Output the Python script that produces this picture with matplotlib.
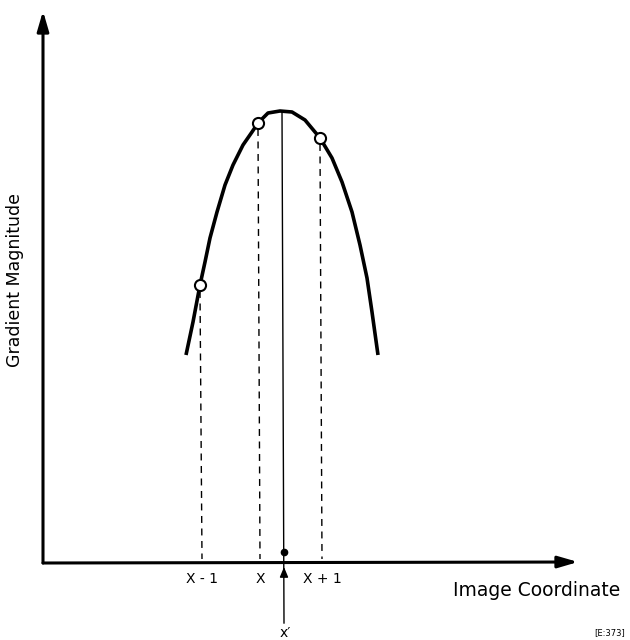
import matplotlib
matplotlib.use("Agg")
import matplotlib.pyplot as plt

# Curve (image-coordinate offset, gradient magnitude)
curve_x = [143, 150, 157, 162, 167, 174, 182, 190, 200, 209, 215, 225, 237,
           249, 262, 277, 289, 299, 309, 317, 324, 329, 335]
curve_y = [208, 241, 278, 301, 325, 351, 378, 398, 418, 431, 440, 450, 452,
           451, 443, 425, 405, 381, 351, 318, 285, 251, 208]

# Sample points x-1, x, x+1
sample_x = [157, 215, 277]
sample_y = [278, 440, 425]
sample_labels = ["X - 1", "X", "X + 1"]

# Interpolated peak location x'
peak_x = 239
peak_y = 452

fig = plt.figure(figsize=(6.3, 6.4), dpi=100)
ax = fig.add_axes([0, 0, 1, 1])
ax.set_xlim(-43, 587)
ax.set_ylim(-77, 563)
ax.axis("off")

# axes with arrows
ax.annotate("", xy=(0, 552), xytext=(0, 0),
            arrowprops=dict(arrowstyle="-|>,head_length=1.2,head_width=0.35",
                            color="black", lw=2.2, shrinkA=0, shrinkB=0))
ax.annotate("", xy=(535, 1), xytext=(0, 0),
            arrowprops=dict(arrowstyle="-|>,head_length=1.2,head_width=0.35",
                            color="black", lw=2.2, shrinkA=0, shrinkB=0))

# dashed drop lines from samples
for sx, sy in zip(sample_x, sample_y):
    ax.plot([sx, sx + 2], [sy - 6, 4], ls=(0, (5, 4)), color="black", lw=1.0)

# solid line through the interpolated peak
ax.plot([peak_x, peak_x + 2], [peak_y, -60], color="black", lw=1.0)
ax.plot(peak_x + 2, 11, "o", color="black", ms=4.5)
ax.annotate("", xy=(peak_x + 2, -4), xytext=(peak_x + 2, -14),
            arrowprops=dict(arrowstyle="-|>,head_length=0.6,head_width=0.25",
                            color="black", lw=1.0, shrinkA=0, shrinkB=0))

# curve
ax.plot(curve_x, curve_y, color="black", lw=2.6, solid_capstyle="butt",
        solid_joinstyle="round", zorder=3)
ax.plot(sample_x, sample_y, "o", ms=8, mfc="white", mec="black", mew=1.5, zorder=4)

# labels
for sx, lab in zip(sample_x, sample_labels):
    ax.text(sx + 2, -16, lab, ha="center", va="center", fontsize=10)
ax.text(peak_x + 3, -70, "x\u2032", ha="center", va="center", fontsize=10)
ax.text(494, -28, "Image Coordinate", ha="center", va="center", fontsize=13.5)
ax.text(-28, 283, "Gradient Magnitude", ha="center", va="center",
        rotation=90, fontsize=12.5)
ax.text(567, -70, "[E:373]", ha="center", va="center", fontsize=6)

fig.savefig("out.png", dpi=100)
